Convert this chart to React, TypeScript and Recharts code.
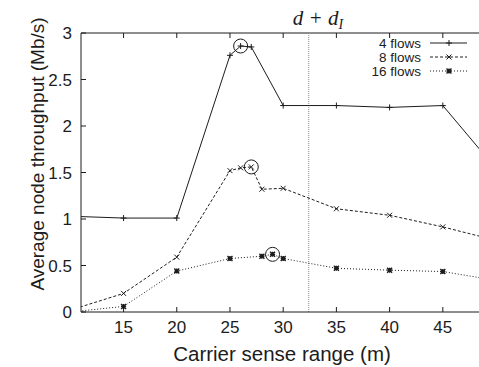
import { Legend, Line, LineChart, ReferenceDot, ReferenceLine, XAxis, YAxis } from "recharts";

const INK = "#1c1c1c";
const FONT = "'Liberation Sans', Arial, sans-serif";

// carrier sense range (m) – ticks and visible window
const X_TICKS = [15, 20, 25, 30, 35, 40, 45];
const X_DOMAIN: [number, number] = [11, 48.4];
const Y_TICKS = [0, 0.5, 1, 1.5, 2, 2.5, 3];
const D_PLUS_DI = 32.4;

// 4 flows
const X_4 = [10, 15, 20, 25, 26, 27, 30, 35, 40, 45, 50];
const Y_4 = [1.03, 1.01, 1.01, 2.76, 2.86, 2.85, 2.22, 2.22, 2.2, 2.22, 1.54];
// 8 flows
const X_8 = [10, 15, 20, 25, 26, 27, 28, 30, 35, 40, 45, 50];
const Y_8 = [0.02, 0.2, 0.59, 1.52, 1.55, 1.56, 1.32, 1.33, 1.11, 1.04, 0.915, 0.77];
// 16 flows
const X_16 = [10, 15, 20, 25, 28, 29, 30, 35, 40, 45, 50];
const Y_16 = [0, 0.06, 0.44, 0.575, 0.6, 0.62, 0.575, 0.47, 0.45, 0.435, 0.34];

const toPoints = (xs: number[], ys: number[]) => xs.map((x, i) => ({ x, y: ys[i] }));
const peak = (pts: { x: number; y: number }[]) => pts.reduce((a, b) => (b.y > a.y ? b : a));

const SERIES = [
  { name: "4 flows", data: toPoints(X_4, Y_4), dash: undefined, marker: "plus" },
  { name: "8 flows", data: toPoints(X_8, Y_8), dash: "3 2", marker: "cross" },
  { name: "16 flows", data: toPoints(X_16, Y_16), dash: "1 2", marker: "star" },
];

function Marker({ kind, cx, cy }: { kind: string; cx: number; cy: number }) {
  const s = kind === "plus" ? 3 : 2.5;
  const plus = `M${cx - s},${cy}H${cx + s}M${cx},${cy - s}V${cy + s}`;
  const cross = `M${cx - s},${cy - s}L${cx + s},${cy + s}M${cx - s},${cy + s}L${cx + s},${cy - s}`;
  const d = kind === "plus" ? plus : kind === "cross" ? cross : plus + cross;
  return <path d={d} stroke={INK} strokeWidth={kind === "star" ? 1.4 : 1} fill="none" />;
}

function XTick(props: any) {
  const { x, y, payload } = props;
  return (
    <g>
      <line x1={x} x2={x} y1={y} y2={y - 5} stroke={INK} />
      <line x1={x} x2={x} y1={33} y2={38} stroke={INK} />
      <text x={x} y={y + 21} textAnchor="middle" fontSize={17} fill={INK} fontFamily={FONT}>
        {payload.value}
      </text>
    </g>
  );
}

function YTick(props: any) {
  const { x, y, payload } = props;
  return (
    <g>
      <line x1={x} x2={x + 5} y1={y} y2={y} stroke={INK} />
      <text x={x - 9} y={y} dy="0.36em" textAnchor="end" fontSize={17} fill={INK} fontFamily={FONT}>
        {payload.value}
      </text>
    </g>
  );
}

function XLabel() {
  return (
    <text x={282} y={361} textAnchor="middle" fontSize={20.5} fill={INK} fontFamily={FONT}>
      Carrier sense range (m)
    </text>
  );
}

function YLabel() {
  return (
    <text
      x={37}
      y={154}
      transform="rotate(-90 37 154)"
      textAnchor="middle"
      dy="0.36em"
      fontSize={19}
      fill={INK}
      fontFamily={FONT}
    >
      Average node throughput (Mb/s)
    </text>
  );
}

function LegendBox() {
  return (
    <svg width={180} height={50} style={{ display: "block", overflow: "visible" }}>
      {SERIES.map((s, i) => {
        const cy = 8 + i * 14;
        return (
          <g key={s.name}>
            <text x={122} y={cy} dy="0.36em" textAnchor="end" fontSize={13.5} fill={INK} fontFamily={FONT}>
              {s.name}
            </text>
            <line x1={131} x2={168} y1={cy} y2={cy} stroke={INK} strokeDasharray={s.dash} />
            <Marker kind={s.marker} cx={150} cy={cy} />
          </g>
        );
      })}
    </svg>
  );
}

function BoundaryLabel(props: any) {
  const x = props.viewBox?.x ?? 308;
  const y = props.viewBox?.y ?? 33;
  return (
    <text x={x - 16} y={y - 8} fontSize={21} fontStyle="italic" fill={INK} fontFamily="'Liberation Serif', 'Times New Roman', serif">
      d + d
      <tspan fontSize={14} dy={4}>I</tspan>
    </text>
  );
}

export default function App() {
  return (
    <div style={{ position: "absolute", left: 0, top: 0, background: "#fff" }}>
      <LineChart width={479} height={367} margin={{ top: 33, right: 0, bottom: 0, left: 0 }}>
        <XAxis
          dataKey="x"
          type="number"
          domain={X_DOMAIN}
          allowDataOverflow
          ticks={X_TICKS}
          tick={<XTick />}
          tickLine={false}
          tickSize={0}
          tickMargin={0}
          height={55}
          stroke={INK}
          label={<XLabel />}
        />
        <YAxis
          type="number"
          domain={[0, 3]}
          ticks={Y_TICKS}
          tick={<YTick />}
          tickLine={false}
          tickSize={0}
          tickMargin={0}
          width={81}
          stroke={INK}
          label={<YLabel />}
        />
        <ReferenceLine y={3} stroke={INK} />
        <ReferenceLine x={D_PLUS_DI} stroke="#8a8a8a" strokeDasharray="1 1" label={<BoundaryLabel />} />
        {SERIES.map((s) => (
          <Line
            key={s.name}
            data={s.data}
            dataKey="y"
            name={s.name}
            stroke={INK}
            strokeWidth={1}
            strokeDasharray={s.dash}
            isAnimationActive={false}
            dot={(p: any) => <Marker key={`${s.name}-${p.index}`} kind={s.marker} cx={p.cx} cy={p.cy} />}
            activeDot={false}
          />
        ))}
        {SERIES.map((s) => {
          const top = peak(s.data);
          return <ReferenceDot key={`pk-${s.name}`} x={top.x} y={top.y} r={7} fill="none" stroke={INK} strokeWidth={1} />;
        })}
        <Legend content={<LegendBox />} wrapperStyle={{ top: 35, left: 299, width: 180, height: 0 }} />
      </LineChart>
    </div>
  );
}
